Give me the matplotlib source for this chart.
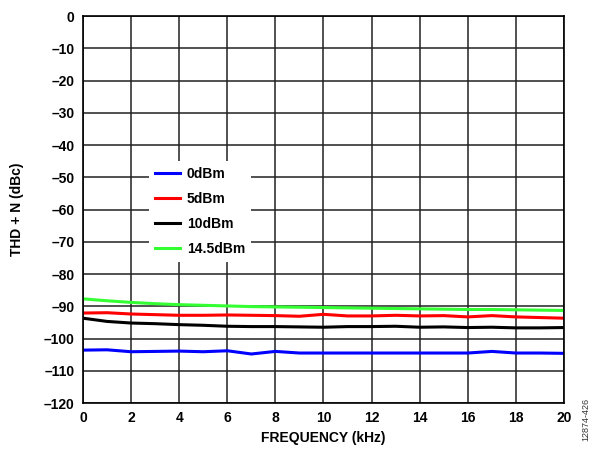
import matplotlib.pyplot as plt
import numpy as np

plt.rcParams['font.family'] = ['Liberation Sans', 'DejaVu Sans']
plt.rcParams['font.weight'] = 'bold'

freq = [0, 1, 2, 3, 4, 5, 6, 7, 8, 9, 10, 11, 12, 13, 14, 15, 16, 17, 18, 19, 20]

thd_0dbm = [-103.6, -103.5, -104.1, -104.0, -103.9, -104.1, -103.8, -104.8, -104.0, -104.5, -104.5,
            -104.5, -104.5, -104.5, -104.5, -104.5, -104.5, -104.0, -104.5, -104.5, -104.6]
thd_5dbm = [-92.1, -92.0, -92.4, -92.6, -92.8, -92.8, -92.7, -92.8, -92.9, -93.1, -92.5,
            -93.0, -93.0, -92.8, -93.0, -92.9, -93.3, -92.9, -93.3, -93.5, -93.7]
thd_10dbm = [-93.7, -94.7, -95.2, -95.4, -95.7, -95.9, -96.2, -96.3, -96.3, -96.4, -96.5,
             -96.3, -96.3, -96.2, -96.5, -96.4, -96.6, -96.5, -96.7, -96.7, -96.6]
thd_145dbm = [-87.7, -88.3, -88.8, -89.2, -89.5, -89.7, -89.9, -90.1, -90.2, -90.3, -90.4,
              -90.5, -90.6, -90.7, -90.8, -90.9, -91.0, -91.0, -91.1, -91.2, -91.3]

fig = plt.figure(figsize=(5.94, 4.51), dpi=100)
ax = fig.add_axes([0.1397, 0.1064, 0.8098, 0.8581])

ax.plot(freq, thd_0dbm, color='#0000ff', lw=2.2, label='0dBm')
ax.plot(freq, thd_5dbm, color='#ff0000', lw=2.2, label='5dBm')
ax.plot(freq, thd_10dbm, color='#000000', lw=2.2, label='10dBm')
ax.plot(freq, thd_145dbm, color='#33ff33', lw=2.2, label='14.5dBm')

ax.set_xlim(0, 20)
ax.set_ylim(-120, 0)
ax.set_xticks(np.arange(0, 21, 2))
ax.set_yticks(np.arange(-120, 1, 10))
ax.set_yticklabels([str(v).replace('-', '\u2013') for v in range(-120, 1, 10)])
ax.grid(True, color='#222222', lw=1.1)
ax.tick_params(length=0, labelsize=10, pad=6)
for s in ax.spines.values():
    s.set_color('black')
    s.set_linewidth(1.2)

ax.set_xlabel('FREQUENCY (kHz)', fontsize=10, fontweight='bold', labelpad=4)
ax.set_ylabel('THD + N (dBc)', fontsize=10, fontweight='bold', labelpad=14)

leg = ax.legend(loc='upper left', bbox_to_anchor=(0.138, 0.625), frameon=True,
                fancybox=False, handlelength=1.8, handletextpad=0.5,
                labelspacing=0.8, fontsize=10, borderpad=0.4, borderaxespad=0)
leg.get_frame().set_facecolor('white')
leg.get_frame().set_edgecolor('none')
leg.get_frame().set_alpha(1)

fig.text(0.986, 0.07, '12874-426', rotation=90, fontsize=6.5, fontweight='normal',
         ha='center', va='center', color='#333333')

fig.savefig('out.png', dpi=100)
